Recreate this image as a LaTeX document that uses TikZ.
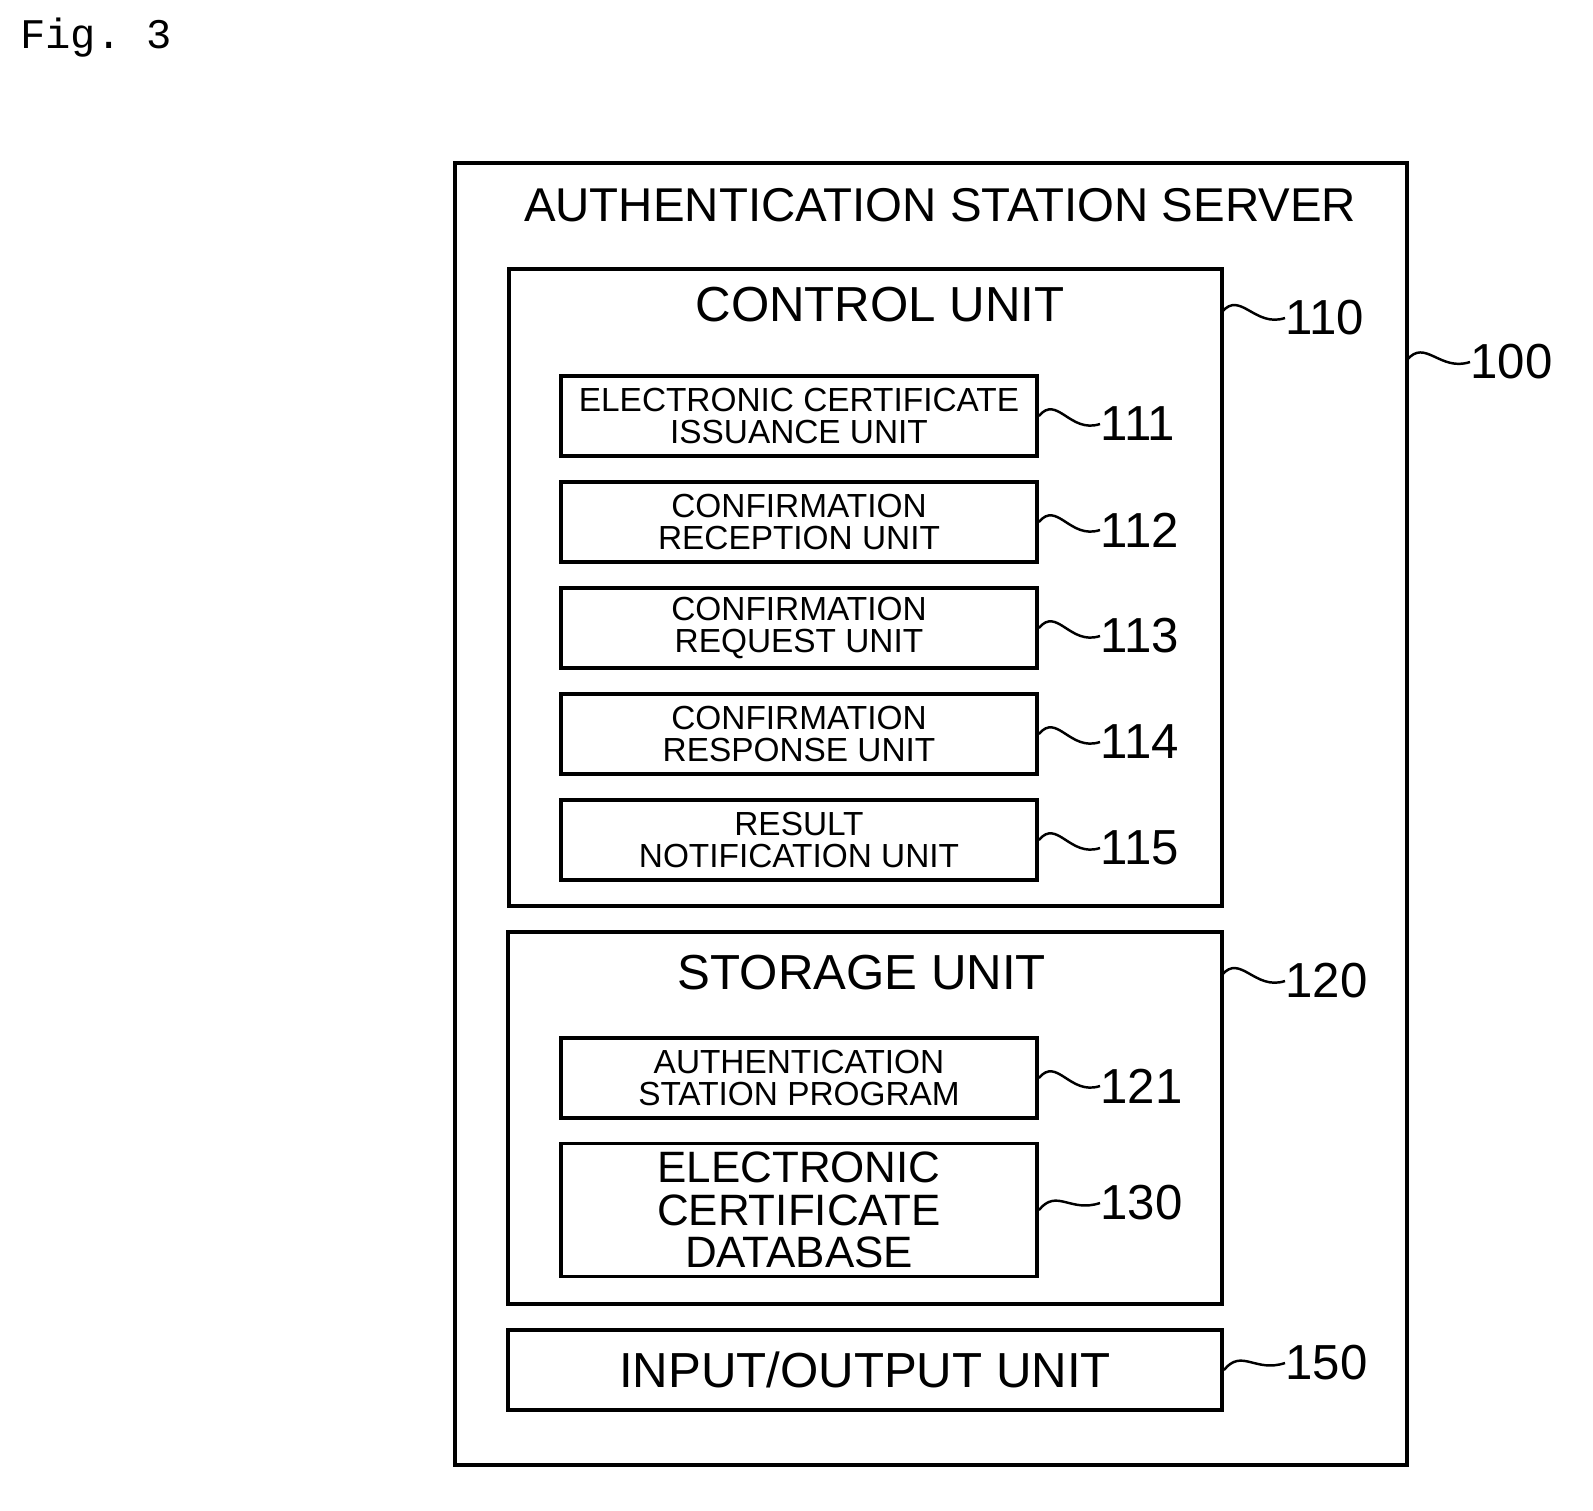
\documentclass[tikz,border=0pt]{standalone}
\usepackage{fontspec}
\setmainfont{Liberation Sans}
\setmonofont{Liberation Mono}
\usetikzlibrary{positioning}
\tikzset{
  box/.style={draw,line width=2.2pt,minimum width=476*0.02cm,minimum height=80*0.02cm,inner sep=0pt,align=center},
  frame/.style={draw,line width=2.2pt},
  num/.style={anchor=west,font=\fontsize{28}{28}\selectfont,inner sep=0pt},
  sub/.style={font=\fontsize{19}{18}\selectfont},
  lead/.style={line width=1.4pt}
}
\begin{document}
\begin{tikzpicture}[x=0.02cm,y=-0.02cm]
\useasboundingbox (0,0) rectangle (1593,1511);
\node[anchor=west,font=\ttfamily\fontsize{24}{24}\selectfont] (fig) at (14,38) {Fig.\ 3};
% outer boxes
\draw[frame] (455,163) rectangle (1407,1465);
\coordinate (srv) at (1407,360);
\node[font=\fontsize{27}{27}\selectfont] (tsrv) at (940,205) {AUTHENTICATION STATION SERVER};
\draw[frame] (509,269) rectangle (1222,906);
\coordinate (ctl) at (1222,312);
\node[font=\fontsize{28}{28}\selectfont] (tctl) at (880,305) {CONTROL UNIT};
\draw[frame] (508,932) rectangle (1222,1304);
\coordinate (sto) at (1222,975);
\node[font=\fontsize{28}{28}\selectfont] (tsto) at (862,973) {STORAGE UNIT};
% sub units
\foreach \n/\y/\t in {111/416/ELECTRONIC CERTIFICATE\\ISSUANCE UNIT,
  112/522/CONFIRMATION\\RECEPTION UNIT,
  113/628/CONFIRMATION\\REQUEST UNIT,
  114/734/CONFIRMATION\\RESPONSE UNIT,
  115/840/RESULT\\NOTIFICATION UNIT,
  121/1078/AUTHENTICATION\\STATION PROGRAM}{
  \node[box,sub] (b\n) at (799,\y) {\t};
  \node[num] (l\n) at (1100,\y+8) {\n};
  \draw[lead] (b\n.east) .. controls +(18,-22) and +(-30,10) .. (l\n.west);
}
\node[box,minimum height=133*0.02cm,font=\fontsize{25}{24}\selectfont] (b130) at (799,1210) {ELECTRONIC\\CERTIFICATE\\DATABASE};
\node[num] (l130) at (1100,1203) {130};
\draw[lead] (b130.east) .. controls +(18,-22) and +(-30,10) .. (l130.west);
\node[box,minimum width=714*0.02cm,font=\fontsize{28}{28}\selectfont] (b150) at (865,1370) {INPUT/OUTPUT UNIT};
\node[num] (l150) at (1285,1363) {150};
\draw[lead] (b150.east) .. controls +(18,-22) and +(-30,10) .. (l150.west);
% reference numbers of frames
\node[num] (l100) at (1470,362) {100};
\draw[lead] (srv) .. controls +(18,-22) and +(-30,10) .. (l100.west);
\node[num] (l110) at (1285,318) {110};
\draw[lead] (ctl) .. controls +(18,-22) and +(-30,10) .. (l110.west);
\node[num] (l120) at (1285,981) {120};
\draw[lead] (sto) .. controls +(18,-22) and +(-30,10) .. (l120.west);
\end{tikzpicture}
\end{document}
